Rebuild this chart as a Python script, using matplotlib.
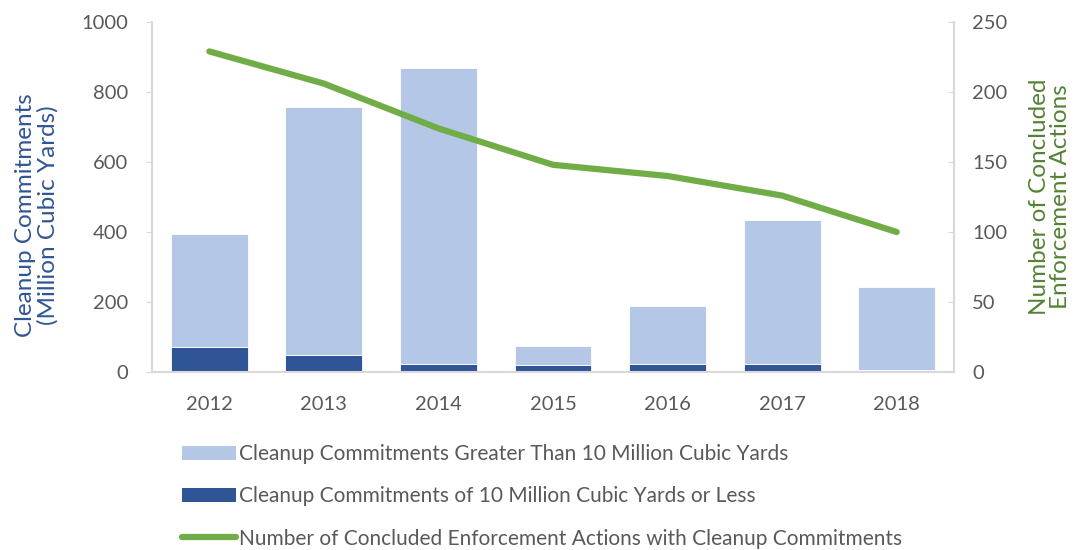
import matplotlib
matplotlib.use("Agg")
import matplotlib.pyplot as plt
from matplotlib.patches import Patch
from matplotlib.lines import Line2D
import numpy as np

years = ["2012", "2013", "2014", "2015", "2016", "2017", "2018"]
small = [72, 50, 24, 20, 24, 24, 5]
total = [395, 758, 869, 73, 189, 434, 243]
large = [t - s for t, s in zip(total, small)]
actions = [229, 206, 174, 148, 140, 126, 100]

left_ticks = [0, 200, 400, 600, 800, 1000]
right_ticks = [0, 50, 100, 150, 200, 250]

plt.rcParams['font.family'] = ['Lato', 'DejaVu Sans']

C_LIGHT = "#B4C7E7"
C_DARK = "#2F5597"
C_GREEN = "#70AD47"
C_TICK = "#595959"
C_SPINE = "#D9D9D9"

fig = plt.figure(figsize=(10.77, 5.5), dpi=100)
ax = fig.add_axes([152/1077, 1-372/550, (954-152)/1077, 350/550])
x = np.arange(len(years))
w = 0.67
ax.bar(x, small, width=w, color=C_DARK, edgecolor="white", linewidth=0.6)
ax.bar(x, large, width=w, bottom=small, color=C_LIGHT, edgecolor="white", linewidth=0.6)
ax.set_xlim(-0.5, len(years) - 0.5)
ax.set_ylim(0, 1000)
ax.set_yticks(left_ticks)
ax.set_xticks(x)
ax.set_xticklabels(years)
ax.tick_params(axis='y', colors=C_SPINE, labelcolor=C_TICK, labelsize=14.5, length=4, pad=13)
ax.tick_params(axis='x', length=0, labelcolor=C_TICK, labelsize=14.5, pad=17)
ax.spines["top"].set_visible(False)
for s in ["left", "bottom", "right"]:
    ax.spines[s].set_color(C_SPINE)
    ax.spines[s].set_linewidth(1.5)

ax2 = ax.twinx()
ax2.plot(x, actions, color=C_GREEN, linewidth=4.5, solid_capstyle='round')
ax2.set_ylim(0, 250)
ax2.set_yticks(right_ticks)
ax2.tick_params(axis='y', colors=C_SPINE, labelcolor=C_TICK, labelsize=14.5, length=4, direction='in', pad=13)
ax2.spines["top"].set_visible(False)
ax2.spines["right"].set_color(C_SPINE)
ax2.spines["right"].set_linewidth(1.5)
ax2.spines["left"].set_visible(False)
ax2.spines["bottom"].set_visible(False)

fig.text(37/1077, 1-215/550, "Cleanup Commitments\n(Million Cubic Yards)", color=C_DARK,
         fontsize=17.5, rotation=90, ha='center', va='center', multialignment='center', linespacing=1.05)
fig.text(1050/1077, 1-197/550, "Number of Concluded\nEnforcement Actions", color="#548235",
         fontsize=17.5, rotation=90, ha='center', va='center', multialignment='center', linespacing=1.05)

handles = [
    Patch(facecolor=C_LIGHT, edgecolor='none'),
    Patch(facecolor=C_DARK, edgecolor='none'),
    Line2D([0], [0], color=C_GREEN, linewidth=4.5, solid_capstyle='round'),
]
labels = [
    "Cleanup Commitments Greater Than 10 Million Cubic Yards",
    "Cleanup Commitments of 10 Million Cubic Yards or Less",
    "Number of Concluded Enforcement Actions with Cleanup Commitments",
]
leg = fig.legend(handles, labels, loc="upper left", bbox_to_anchor=(172/1077, 1-434/550),
                 frameon=False, fontsize=15.0, labelspacing=1.06, handlelength=2.55,
                 handleheight=0.65, handletextpad=0.15, labelcolor=C_TICK, borderpad=0)

fig.savefig("out.png", dpi=100)
